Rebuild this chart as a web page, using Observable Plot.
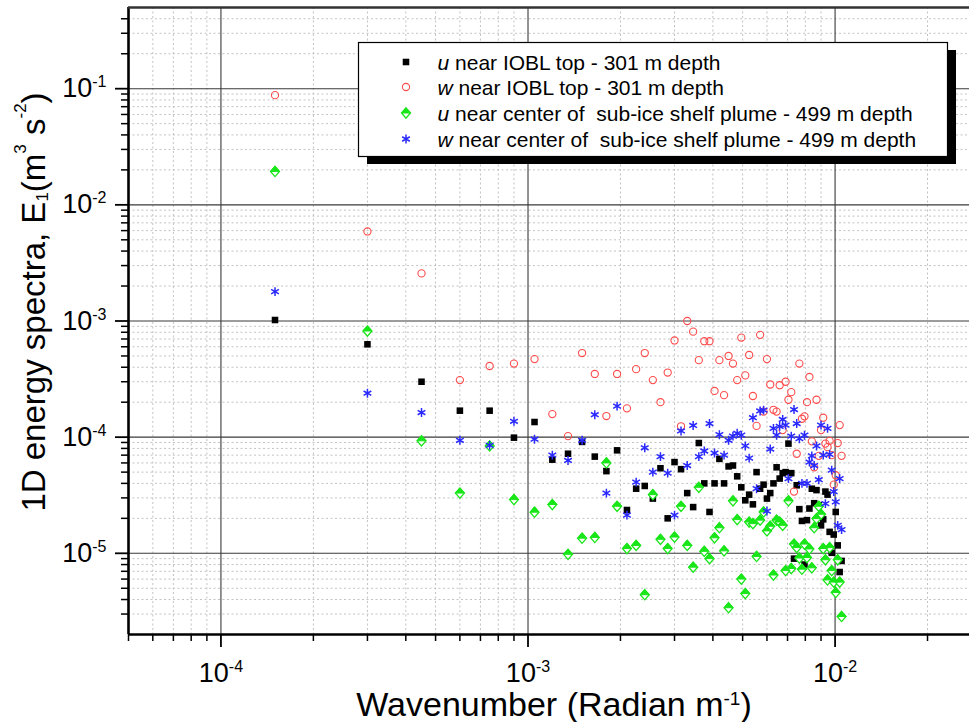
<!DOCTYPE html>
<html><head><meta charset="utf-8">
<script src="https://cdn.jsdelivr.net/npm/d3@7"></script>
<script src="https://cdn.jsdelivr.net/npm/@observablehq/plot@0.6"></script>
<style>body{margin:0;background:#fff;overflow:hidden} svg{display:block}</style>
</head><body><div id="chart"></div>
<script>
// Wavenumber (rad/m)
const wavenumber = [
  0.00015,0.0003,0.00045,0.0006,0.00075,0.0009,0.00105,0.0012,0.00135,0.0015,
  0.00165,0.0018,0.00195,0.0021,0.00225,0.0024,0.00255,0.0027,0.00285,0.003,
  0.00315,0.0033,0.00345,0.0036,0.00375,0.0039,0.00405,0.0042,0.00435,0.0045,
  0.00465,0.0048,0.00495,0.0051,0.00525,0.0054,0.00555,0.0057,0.00585,0.006,
  0.00615,0.0063,0.00645,0.0066,0.00675,0.0069,0.00705,0.0072,0.00735,0.0075,
  0.00765,0.0078,0.00795,0.0081,0.00825,0.0084,0.00855,0.0087,0.00885,0.009,
  0.00915,0.0093,0.00945,0.0096,0.00975,0.0099,0.01005,0.0102,0.01035,0.0105
];
// u near IOBL top - 301 m depth
const uIOBL = [
  1.02e-3,6.3e-4,3.0e-4,1.69e-4,1.69e-4,9.9e-5,1.35e-4,6.4e-5,7.2e-5,9.1e-5,
  6.8e-5,5.1e-5,7.7e-5,2.36e-5,3.6e-5,3.8e-5,2.96e-5,5.4e-5,2.0e-5,6.1e-5,
  5.3e-5,3.3e-5,2.5e-5,8.9e-5,4.0e-5,2.27e-5,4.0e-5,6.5e-5,4.0e-5,5.6e-5,
  5.7e-5,4.6e-5,3.7e-5,2.86e-5,3.2e-5,2.64e-5,5.0e-5,3.6e-5,3.9e-5,2.96e-5,
  3.3e-5,4.0e-5,5.5e-5,4.4e-5,4.9e-5,5.0e-5,8.8e-5,4.9e-5,9.0e-6,3.85e-5,
  2.4e-5,1.9e-5,8.0e-6,1.93e-5,2.43e-5,3.6e-5,2.7e-5,3.5e-5,2.6e-5,1.74e-5,
  1.96e-5,3.4e-5,3.2e-5,1.53e-5,1.01e-5,1.45e-5,2.27e-5,1.17e-5,6.9e-6,8.6e-6
];
// w near IOBL top - 301 m depth
const wIOBL = [
  8.8e-2,5.9e-3,2.57e-3,3.1e-4,4.1e-4,4.3e-4,4.7e-4,1.58e-4,1.02e-4,5.3e-4,
  3.5e-4,1.52e-4,3.5e-4,1.77e-4,3.85e-4,5.3e-4,3.1e-4,2.0e-4,3.6e-4,6.8e-4,
  1.24e-4,1.0e-3,8.1e-4,4.6e-4,6.7e-4,6.7e-4,2.5e-4,4.6e-4,2.3e-4,5.0e-4,
  4.3e-4,3.1e-4,7.2e-4,3.4e-4,5.1e-4,2.26e-4,1.25e-4,7.6e-4,1.66e-4,4.7e-4,
  2.84e-4,1.72e-4,1.66e-4,2.8e-4,1.15e-4,3.0e-4,2.1e-4,2.44e-4,3.4e-5,7.2e-5,
  4.3e-4,1.44e-4,1.51e-4,2.0e-4,3.3e-4,9.2e-5,5.5e-5,2.1e-4,6.9e-5,1.15e-4,
  1.47e-4,8.8e-5,8.2e-5,9.3e-5,7.0e-5,3.9e-5,4.7e-5,8.9e-5,1.27e-4,6.9e-5
];
// u near center of sub-ice shelf plume - 499 m depth
const uPlume = [
  1.94e-2,8.2e-4,9.3e-5,3.3e-5,8.4e-5,2.9e-5,2.26e-5,2.63e-5,9.8e-6,1.35e-5,
  1.37e-5,6.0e-5,2.54e-5,1.1e-5,1.17e-5,4.4e-6,3.2e-5,1.32e-5,1.1e-5,1.38e-5,
  2.54e-5,1.17e-5,7.6e-6,3.7e-5,1.04e-5,9.0e-6,1.36e-5,1.66e-5,1.05e-5,3.4e-6,
  2.83e-5,1.95e-5,6.0e-6,4.5e-6,1.86e-5,1.8e-5,9.4e-6,1.93e-5,2.27e-5,1.56e-5,
  1.71e-5,6.5e-6,1.93e-5,1.86e-5,1.74e-5,7.1e-6,2.83e-5,7.4e-6,1.2e-5,1.12e-5,
  9.1e-6,7.3e-6,1.2e-5,9.2e-6,1.09e-5,7.5e-6,1.66e-5,1.99e-5,2.54e-5,2.17e-5,
  1.1e-5,8.8e-6,5.9e-6,1.12e-5,7.1e-6,5.65e-6,4.6e-6,8.8e-6,5.65e-6,2.86e-6
];
// w near center of sub-ice shelf plume - 499 m depth
const wPlume = [
  1.79e-3,2.39e-4,1.63e-4,9.4e-5,8.5e-5,1.37e-4,9.6e-5,7.0e-5,6.3e-5,9.4e-5,
  1.56e-4,3.3e-5,1.85e-4,2.13e-5,4.1e-5,8.1e-5,5.0e-5,6.8e-5,4.9e-5,2.13e-5,
  1.13e-4,5.7e-5,1.26e-4,6.8e-5,7.6e-5,1.31e-4,7.3e-5,1.05e-4,7.0e-5,9.4e-5,
  1.02e-4,1.08e-4,1.04e-4,8.4e-5,6.6e-5,1.47e-4,3.6e-5,1.68e-4,1.71e-4,2.31e-5,
  7.9e-5,1.19e-4,1.04e-4,1.24e-4,1.42e-4,1.27e-4,4.4e-5,1.02e-4,1.73e-4,1.31e-4,
  9.7e-5,4.0e-5,1.04e-4,4.0e-5,6.1e-5,6.9e-5,5.7e-5,8.4e-5,4.3e-5,1.27e-4,
  7.0e-5,2.68e-5,1.19e-4,7.1e-5,5.2e-5,3.4e-5,2.77e-5,1.74e-5,4.4e-5,1.6e-5
];
const legendLabels = [
  ["u", " near IOBL top - 301 m depth"],
  ["w", " near IOBL top - 301 m depth"],
  ["u", " near center of  sub-ice shelf plume - 499 m depth"],
  ["w", " near center of  sub-ice shelf plume - 499 m depth"]
];
const xMajor = [1e-4, 1e-3, 1e-2];
const xMinor = [6e-5,7e-5,8e-5,9e-5,2e-4,3e-4,4e-4,5e-4,6e-4,7e-4,8e-4,9e-4,
                2e-3,3e-3,4e-3,5e-3,6e-3,7e-3,8e-3,9e-3,2e-2];
const yMajor = [1e-5, 1e-4, 1e-3, 1e-2, 1e-1];
const yMinor = [3e-6,4e-6,5e-6,6e-6,7e-6,8e-6,9e-6,
                2e-5,3e-5,4e-5,5e-5,6e-5,7e-5,8e-5,9e-5,
                2e-4,3e-4,4e-4,5e-4,6e-4,7e-4,8e-4,9e-4,
                2e-3,3e-3,4e-3,5e-3,6e-3,7e-3,8e-3,9e-3,
                2e-2,3e-2,4e-2,5e-2,6e-2,7e-2,8e-2,9e-2,
                0.2,0.3,0.4];

const rows = vals => wavenumber.map((k, i) => ({k, e: vals[i]}));
const RED = "#ff4a4a", GREEN = "#19e619", BLUE = "#2a2aff";
const R_SQ = 3.7, R_CI = 3.6, R_DI = 3.6, R_AS = 4.2;

const diamondOutline = {draw(ctx, size) { const s = Math.sqrt(size) * 0.7;
  ctx.moveTo(0, -s * 1.15); ctx.lineTo(s, 0); ctx.lineTo(0, s * 1.15); ctx.lineTo(-s, 0); ctx.closePath(); }};
const diamondTop = {draw(ctx, size) { const s = Math.sqrt(size) * 0.7;
  ctx.moveTo(0, -s * 1.15); ctx.lineTo(s, 0); ctx.lineTo(-s, 0); ctx.closePath(); }};

const supFmt = d => "10^" + Math.round(Math.log10(d));

const chart = Plot.plot({
  width: 969, height: 722,
  marginLeft: 128, marginRight: 0, marginTop: 7, marginBottom: 88,
  x: {type: "log", domain: [5e-5, 0.0274]},
  y: {type: "log", domain: [2e-6, 0.5]},
  style: {fontFamily: "'Liberation Sans', Arial, sans-serif", background: "#fff", color: "#000"},
  marks: [
    Plot.ruleX(xMinor, {stroke: "#c2c2c2", strokeDasharray: "2,2.5", strokeWidth: 1}),
    Plot.ruleY(yMinor, {stroke: "#c2c2c2", strokeDasharray: "2,2.5", strokeWidth: 1}),
    Plot.ruleX(xMajor, {stroke: "#3a3a3a", strokeWidth: 1.1}),
    Plot.ruleY(yMajor, {stroke: "#3a3a3a", strokeWidth: 1.1}),
    Plot.dot(rows(uIOBL), {x: "k", y: "e", symbol: "square", r: R_SQ, fill: "#000", stroke: "none"}),
    Plot.dot(rows(wIOBL), {x: "k", y: "e", symbol: "circle", r: R_CI, fill: "none", stroke: RED, strokeWidth: 1.1}),
    Plot.dot(rows(uPlume), {x: "k", y: "e", symbol: diamondOutline, r: R_DI, fill: "#fff", stroke: GREEN, strokeWidth: 1.3}),
    Plot.dot(rows(uPlume), {x: "k", y: "e", symbol: diamondTop, r: R_DI, fill: GREEN, stroke: GREEN, strokeWidth: 1}),
    Plot.dot(rows(wPlume), {x: "k", y: "e", symbol: "asterisk", r: R_AS, stroke: BLUE, strokeWidth: 1.5}),
    Plot.ruleX([5e-5], {stroke: "#000", strokeWidth: 2.6}),
    Plot.ruleY([2e-6], {stroke: "#000", strokeWidth: 2.6}),
    Plot.ruleY([0.5], {stroke: "#333", strokeWidth: 2.6}),
    Plot.axisY({ticks: yMajor, tickSize: 13, tickPadding: 9, tickFormat: supFmt, fontSize: 27, strokeWidth: 1.8, label: null}),
    Plot.axisY({ticks: yMinor, tickSize: 7, tickFormat: () => "", strokeWidth: 1.5, label: null}),
    Plot.axisX({ticks: xMajor, tickSize: 13, tickPadding: 15, tickFormat: supFmt, fontSize: 27, strokeWidth: 1.8, label: null}),
    Plot.axisX({ticks: xMinor.concat([5e-5]), tickSize: 7, tickFormat: () => "", strokeWidth: 1.5, label: null})
  ]
});
document.getElementById("chart").appendChild(chart);

const svg = d3.select(chart);
// superscript tick labels
svg.selectAll("text").each(function() {
  const m = /^10\^(-?\d+)$/.exec(this.textContent);
  if (!m) return;
  const el = d3.select(this);
  el.text(null);
  el.append("tspan").text("10");
  el.append("tspan").attr("font-size", 16).attr("dy", -10).text(m[1]);
});

const FONT = "'Liberation Sans', Arial, sans-serif";
// y axis title
const yt = svg.append("text").attr("transform", "translate(45,302) rotate(-90)")
  .attr("text-anchor", "middle").attr("font-size", 33).attr("font-family", FONT).attr("fill", "#000");
yt.append("tspan").text("1D energy spectra, E");
yt.append("tspan").attr("font-size", 17).attr("dy", 3).text("1");
yt.append("tspan").attr("dy", -3).text("(m");
yt.append("tspan").attr("font-size", 17).attr("dy", -19).text("3");
yt.append("tspan").attr("dy", 19).text(" s");
yt.append("tspan").attr("font-size", 17).attr("dy", -19).text("-2");
yt.append("tspan").attr("dy", 19).text(")");

// x axis title
const xt = svg.append("text").attr("x", 554).attr("y", 716)
  .attr("text-anchor", "middle").attr("font-size", 34).attr("font-family", FONT).attr("fill", "#000");
xt.append("tspan").text("Wavenumber (Radian m");
xt.append("tspan").attr("font-size", 19).attr("dy", -11).text("-1");
xt.append("tspan").attr("dy", 11).text(")");

// legend
const lg = svg.append("g").attr("text-anchor", "start");
lg.append("rect").attr("x", 367).attr("y", 50).attr("width", 589).attr("height", 114).attr("fill", "#000");
lg.append("rect").attr("x", 358.5).attr("y", 42.5).attr("width", 589).attr("height", 114)
  .attr("fill", "#fff").attr("stroke", "#000").attr("stroke-width", 1.2);
const rowY = [62, 87, 113, 139];
const mx = 406;
lg.append("path").attr("transform", `translate(${mx},${rowY[0]})`).attr("d", d3.symbol(d3.symbolSquare, Math.PI * R_SQ * R_SQ)()).attr("fill", "#000");
lg.append("path").attr("transform", `translate(${mx},${rowY[1]})`).attr("d", d3.symbol(d3.symbolCircle, Math.PI * R_CI * R_CI)()).attr("fill", "none").attr("stroke", RED).attr("stroke-width", 1.1);
lg.append("path").attr("transform", `translate(${mx},${rowY[2]})`).attr("d", d3.symbol(diamondOutline, Math.PI * R_DI * R_DI)()).attr("fill", "#fff").attr("stroke", GREEN).attr("stroke-width", 1.3);
lg.append("path").attr("transform", `translate(${mx},${rowY[2]})`).attr("d", d3.symbol(diamondTop, Math.PI * R_DI * R_DI)()).attr("fill", GREEN).attr("stroke", GREEN);
lg.append("path").attr("transform", `translate(${mx},${rowY[3]})`).attr("d", d3.symbol(d3.symbolAsterisk, Math.PI * R_AS * R_AS)()).attr("fill", "none").attr("stroke", BLUE).attr("stroke-width", 1.5);
legendLabels.forEach(([v, rest], i) => {
  const t = lg.append("text").attr("x", 437.5).attr("y", rowY[i]).attr("dy", "0.36em")
    .attr("text-anchor", "start")
    .attr("font-size", 21).attr("font-family", FONT).attr("fill", "#000")
    .attr("xml:space", "preserve").style("white-space", "pre");
  t.append("tspan").attr("font-style", "italic").text(v);
  t.append("tspan").text(rest);
});
</script>
</body></html>
